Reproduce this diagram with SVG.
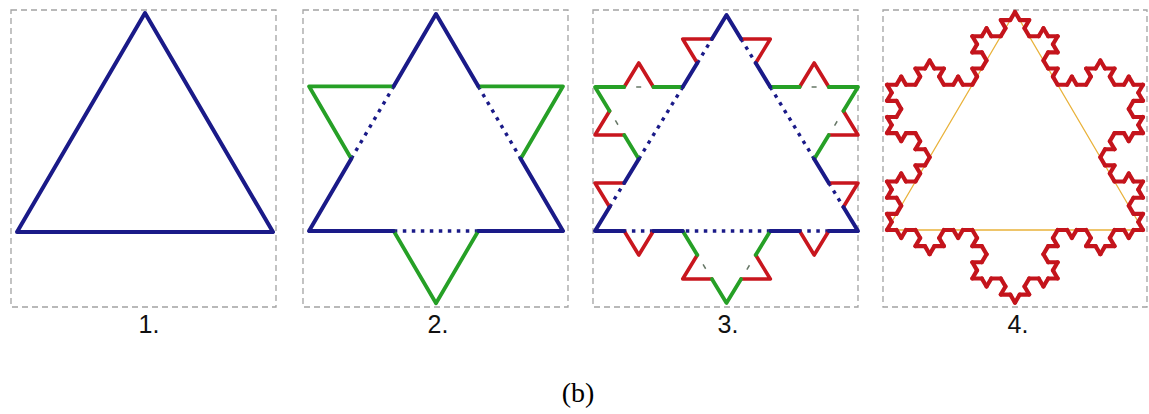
<svg xmlns="http://www.w3.org/2000/svg" xmlns:xlink="http://www.w3.org/1999/xlink" width="1149" height="414" viewBox="0 0 1149 414">
<style>
.frame{fill:none;stroke:#a3a3a3;stroke-width:1.3;stroke-dasharray:6 4}
.b{fill:none;stroke:#1a1a88;stroke-width:4;stroke-linejoin:round;stroke-linecap:round}
.g{fill:none;stroke:#26a026;stroke-width:3.8;stroke-linejoin:round;stroke-linecap:round}
.r{fill:none;stroke:#c8161e;stroke-width:3.6;stroke-linejoin:round;stroke-linecap:round}
.bd{fill:none;stroke:#1a1a88;stroke-width:3.4;stroke-dasharray:3.5 5.5}
.gd{fill:none;stroke:#667766;stroke-width:1.5;stroke-dasharray:0 12 5 100}
.lbl{font-family:"Liberation Sans",Arial,sans-serif;font-size:25px;fill:#111;text-anchor:middle}
.cap{font-family:"Liberation Serif","Times New Roman",serif;font-size:28px;fill:#000;text-anchor:middle}
</style>
<defs>
<path id="k0" d="M0,0H1"/>
<g id="k1">
<use xlink:href="#k0" transform="scale(0.333333)"/>
<use xlink:href="#k0" transform="translate(0.333333,0) rotate(-60) scale(0.333333)"/>
<use xlink:href="#k0" transform="translate(0.5,-0.288675) rotate(60) scale(0.333333)"/>
<use xlink:href="#k0" transform="translate(0.666667,0) scale(0.333333)"/>
</g>
<g id="k2">
<use xlink:href="#k1" transform="scale(0.333333)"/>
<use xlink:href="#k1" transform="translate(0.333333,0) rotate(-60) scale(0.333333)"/>
<use xlink:href="#k1" transform="translate(0.5,-0.288675) rotate(60) scale(0.333333)"/>
<use xlink:href="#k1" transform="translate(0.666667,0) scale(0.333333)"/>
</g>
<g id="k3">
<use xlink:href="#k2" transform="scale(0.333333)"/>
<use xlink:href="#k2" transform="translate(0.333333,0) rotate(-60) scale(0.333333)"/>
<use xlink:href="#k2" transform="translate(0.5,-0.288675) rotate(60) scale(0.333333)"/>
<use xlink:href="#k2" transform="translate(0.666667,0) scale(0.333333)"/>
</g>
</defs>
<rect width="1149" height="414" fill="#ffffff"/>

<g id="panel1">
<rect class="frame" x="11" y="10" width="265" height="297"/>
<polygon class="b" points="17,232 145,13 273,232"/>
<text class="lbl" x="149" y="333">1.</text>
</g>

<g id="panel2">
<rect class="frame" x="303" y="10" width="265" height="297"/>
<line class="bd" x1="351.3" y1="158.7" x2="393.7" y2="86.3"/>
<line class="bd" x1="478.3" y1="86.3" x2="520.7" y2="158.7"/>
<line class="bd" x1="478.3" y1="231" x2="393.7" y2="231"/>
<polyline class="g" points="351.3,158.7 309,86.3 393.7,86.3"/>
<polyline class="g" points="478.3,86.3 563,86.3 520.7,158.7"/>
<polyline class="g" points="478.3,231 436,303.3 393.7,231"/>
<polyline class="b" points="351.3,158.7 309,231 393.7,231"/>
<polyline class="b" points="393.7,86.3 436,14 478.3,86.3"/>
<polyline class="b" points="520.7,158.7 563,231 478.3,231"/>
<text class="lbl" x="438" y="333">2.</text>
</g>

<g id="panel3">
<rect class="frame" x="593" y="10" width="265" height="297"/>
<g id="p3-dotted">
<line class="bd" x1="638.8" y1="159" x2="682.7" y2="87"/>
<line class="bd" x1="770.3" y1="87" x2="814.2" y2="159"/>
<line class="bd" x1="770.3" y1="231" x2="682.7" y2="231"/>
<line class="bd" x1="609.6" y1="207" x2="624.2" y2="183"/>
<line class="bd" x1="697.3" y1="63" x2="711.9" y2="39"/>
<line class="bd" x1="741.1" y1="39" x2="755.7" y2="63"/>
<line class="bd" x1="828.8" y1="183" x2="843.4" y2="207"/>
<line class="bd" x1="828.8" y1="231" x2="799.6" y2="231"/>
<line class="bd" x1="653.4" y1="231" x2="624.2" y2="231"/>
<line class="gd" x1="624.2" y1="135" x2="609.6" y2="111"/>
<line class="gd" x1="624.2" y1="87" x2="653.4" y2="87"/>
<line class="gd" x1="799.6" y1="87" x2="828.8" y2="87"/>
<line class="gd" x1="843.4" y1="111" x2="828.8" y2="135"/>
<line class="gd" x1="755.7" y1="255" x2="741.1" y2="279"/>
<line class="gd" x1="711.9" y1="279" x2="697.3" y2="255"/>
</g>
<g id="p3-red">
<polyline class="r" points="609.6,207 595,183 624.2,183"/>
<polyline class="r" points="624.2,135 595,135 609.6,111"/>
<polyline class="r" points="624.2,87 638.8,63 653.4,87"/>
<polyline class="r" points="697.3,63 682.7,39 711.9,39"/>
<polyline class="r" points="741.1,39 770.3,39 755.7,63"/>
<polyline class="r" points="799.6,87 814.2,63 828.8,87"/>
<polyline class="r" points="843.4,111 858,135 828.8,135"/>
<polyline class="r" points="828.8,183 858,183 843.4,207"/>
<polyline class="r" points="828.8,231 814.2,255 799.6,231"/>
<polyline class="r" points="755.7,255 770.3,279 741.1,279"/>
<polyline class="r" points="711.9,279 682.7,279 697.3,255"/>
<polyline class="r" points="653.4,231 638.8,255 624.2,231"/>
</g>
<g id="p3-green">
<polyline class="g" points="638.8,159 624.2,135"/>
<polyline class="g" points="609.6,111 595,87 624.2,87"/>
<polyline class="g" points="653.4,87 682.7,87"/>
<polyline class="g" points="770.3,87 799.6,87"/>
<polyline class="g" points="828.8,87 858,87 843.4,111"/>
<polyline class="g" points="828.8,135 814.2,159"/>
<polyline class="g" points="770.3,231 755.7,255"/>
<polyline class="g" points="741.1,279 726.5,303 711.9,279"/>
<polyline class="g" points="697.3,255 682.7,231"/>
</g>
<g id="p3-blue">
<polyline class="b" points="624.2,231 595,231 609.6,207"/>
<polyline class="b" points="624.2,183 638.8,159"/>
<polyline class="b" points="682.7,87 697.3,63"/>
<polyline class="b" points="711.9,39 726.5,15 741.1,39"/>
<polyline class="b" points="755.7,63 770.3,87"/>
<polyline class="b" points="814.2,159 828.8,183"/>
<polyline class="b" points="843.4,207 858,231 828.8,231"/>
<polyline class="b" points="799.6,231 770.3,231"/>
<polyline class="b" points="682.7,231 653.4,231"/>
</g>
<text class="lbl" x="728" y="333">3.</text>
</g>

<g id="panel4">
<rect class="frame" x="883" y="10" width="264" height="297"/>
<polygon points="887,230 1015,12 1143,230" fill="none" stroke="#e9b23a" stroke-width="1.3"/>
<g transform="translate(887,230) scale(256,251.7)" fill="none" stroke="#c4141c" stroke-width="0.44" stroke-linecap="round">
<use xlink:href="#k3" transform="rotate(-60)"/>
<use xlink:href="#k3" transform="translate(0.5,-0.866025) rotate(60)"/>
<use xlink:href="#k3" transform="translate(1,0) rotate(180)"/>
</g>
<text class="lbl" x="1018" y="333">4.</text>
</g>

<text class="cap" x="578" y="402">(b)</text>
</svg>
